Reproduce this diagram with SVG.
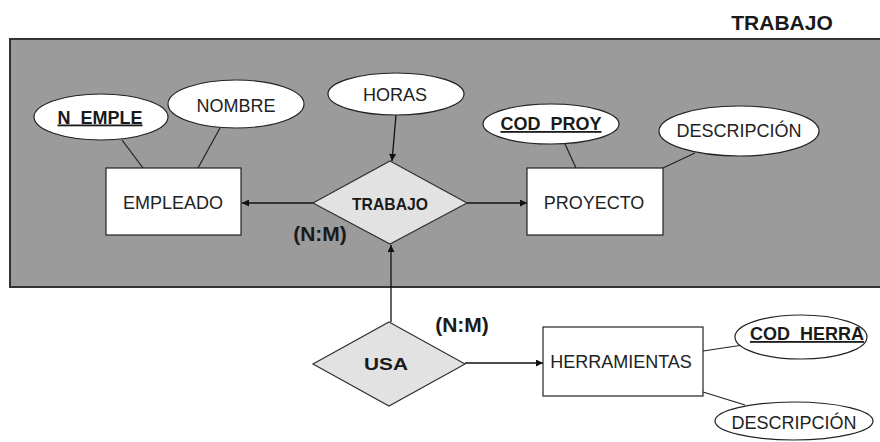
<svg xmlns="http://www.w3.org/2000/svg" width="880" height="442" viewBox="0 0 880 442">
<style>
  text { font-family: "Liberation Sans", Arial, sans-serif; fill: #1a1a1a; text-anchor: middle; }
  .lbl { font-size: 18px; font-weight: normal; fill: #222; }
  .key { font-size: 18px; font-weight: bold; text-decoration: underline; }
  .rel { font-size: 17px; font-weight: bold; }
  .card { font-size: 21px; font-weight: bold; }
  .title { font-size: 21px; font-weight: bold; }
  .ent { fill: #ffffff; stroke: #222; stroke-width: 1.2; }
  .att { fill: #ffffff; stroke: #222; stroke-width: 1.2; }
  .dia { fill: #e2e2e2; stroke: #333; stroke-width: 1.2; }
  .ln { stroke: #222; stroke-width: 1.2; fill: none; }
  .arr { stroke: #111; stroke-width: 1.3; fill: none; marker-end: url(#ah); }
</style>
<defs>
  <marker id="ah" viewBox="0 0 10 10" refX="10" refY="5" markerWidth="9" markerHeight="7" markerUnits="userSpaceOnUse" orient="auto">
    <path d="M0,0 L10,5 L0,10 z" fill="#111"/>
  </marker>
</defs>
<rect width="880" height="442" fill="#ffffff"/>
<text class="title" x="782" y="30">TRABAJO</text>
<rect id="grupo" x="10" y="39" width="872" height="248" fill="#9b9b9b" stroke="#333" stroke-width="2"/>

<g id="connectors">
  <line class="ln" x1="122" y1="140" x2="143" y2="168"/>
  <line class="ln" x1="220" y1="128" x2="198" y2="168"/>
  <line class="ln" x1="565" y1="144" x2="576" y2="168"/>
  <line class="ln" x1="695" y1="153" x2="663" y2="168"/>
  <line class="ln" x1="703" y1="351" x2="743" y2="345"/>
  <line class="ln" x1="703" y1="392" x2="745" y2="405"/>
  <line class="arr" x1="396" y1="115" x2="392" y2="161"/>
  <line class="arr" x1="313" y1="203" x2="242" y2="203"/>
  <line class="arr" x1="467" y1="203" x2="527" y2="203"/>
  <line class="arr" x1="391" y1="322" x2="391" y2="245"/>
  <line class="arr" x1="465" y1="363" x2="543" y2="363"/>
</g>

<g id="EMPLEADO">
  <rect class="ent" x="106" y="168" width="135" height="67"/>
  <text class="lbl" x="173" y="208.5">EMPLEADO</text>
</g>
<g id="N_EMPLE">
  <ellipse class="att" cx="101" cy="117" rx="67" ry="23"/>
  <text class="key" x="100" y="123.5">N_EMPLE</text>
</g>
<g id="NOMBRE">
  <ellipse class="att" cx="236" cy="104" rx="68" ry="24"/>
  <text class="lbl" x="236" y="111.5">NOMBRE</text>
</g>
<g id="HORAS">
  <ellipse class="att" cx="396" cy="94" rx="68" ry="21"/>
  <text class="lbl" x="395" y="100.5">HORAS</text>
</g>
<g id="TRABAJO">
  <polygon class="dia" points="390,161 467,203 390,244 313,203"/>
  <text class="rel" x="390" y="209.5" textLength="76" lengthAdjust="spacingAndGlyphs">TRABAJO</text>
</g>
<g id="card1">
  <text class="card" x="320" y="241">(N:M)</text>
</g>
<g id="PROYECTO">
  <rect class="ent" x="527" y="168" width="136" height="67"/>
  <text class="lbl" x="594" y="208.5">PROYECTO</text>
</g>
<g id="COD_PROY">
  <ellipse class="att" cx="551" cy="124" rx="68" ry="20"/>
  <text class="key" x="551" y="130">COD_PROY</text>
</g>
<g id="DESCRIPCION1">
  <ellipse class="att" cx="739" cy="131" rx="80" ry="25"/>
  <text class="lbl" x="739" y="137">DESCRIPCIÓN</text>
</g>
<g id="USA">
  <polygon class="dia" points="389,322 465,364 389,406 313,364"/>
  <text class="rel" x="386" y="370" textLength="44" lengthAdjust="spacingAndGlyphs">USA</text>
</g>
<g id="card2">
  <text class="card" x="462" y="332">(N:M)</text>
</g>
<g id="HERRAMIENTAS">
  <rect class="ent" x="543" y="327" width="160" height="69"/>
  <text class="lbl" x="621" y="368">HERRAMIENTAS</text>
</g>
<g id="COD_HERRA">
  <ellipse class="att" cx="801" cy="337" rx="66" ry="22"/>
  <text class="key" x="807" y="340">COD_HERRA</text>
</g>
<g id="DESCRIPCION2">
  <ellipse class="att" cx="794" cy="421" rx="79" ry="19"/>
  <text class="lbl" x="794" y="429">DESCRIPCIÓN</text>
</g>
</svg>
